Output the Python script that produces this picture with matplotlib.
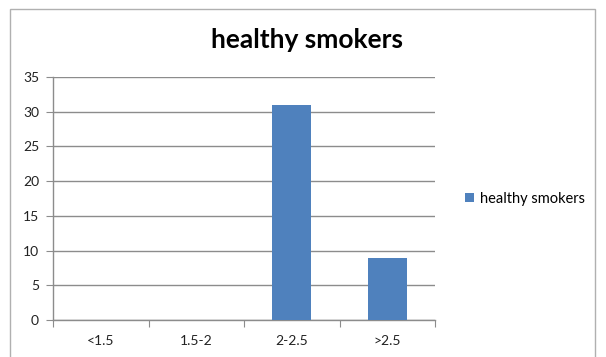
import matplotlib
matplotlib.use("Agg")
import matplotlib.pyplot as plt
from matplotlib.patches import Rectangle

plt.rcParams['font.family'] = ['Lato', 'DejaVu Sans']

categories = ['<1.5', '1.5-2', '2-2.5', '>2.5']
counts = [0, 0, 31, 9]
series_name = 'healthy smokers'
yticks = [0, 5, 10, 15, 20, 25, 30, 35]

bar_color = '#4F81BD'
grid_color = '#8C8C8C'

fig = plt.figure(figsize=(6.06, 3.57), dpi=100)
fig.patch.set_facecolor('white')

# chart area border
fig.patches.append(Rectangle((10 / 606, -0.05), 585 / 606, 1.05 - 9 / 357,
                             transform=fig.transFigure, fill=False,
                             edgecolor='#B0B0B0', linewidth=1.0))

ax = fig.add_axes([53 / 606, 1 - 320 / 357, 382 / 606, 243 / 357])
x = range(len(categories))
ax.bar(x, counts, width=0.41, color=bar_color, label=series_name, zorder=3)

ax.set_xlim(-0.5, len(categories) - 0.5)
ax.set_ylim(0, 35)
ax.set_yticks(yticks)
ax.yaxis.grid(True, color=grid_color, linewidth=1.0, zorder=0)
ax.set_axisbelow(True)

for s in ['top', 'right']:
    ax.spines[s].set_visible(False)
for s in ['left', 'bottom']:
    ax.spines[s].set_color(grid_color)
    ax.spines[s].set_linewidth(1.0)

# category labels centered, tick marks on the boundaries
ax.set_xticks([i - 0.5 for i in range(len(categories) + 1)])
ax.set_xticklabels([])
ax.set_xticks(list(x), minor=True)
ax.set_xticklabels(categories, minor=True)
ax.tick_params(axis='x', which='major', length=5, color=grid_color, direction='out')
ax.tick_params(axis='x', which='minor', length=0, pad=11, labelsize=10, labelcolor='#222222')
ax.tick_params(axis='y', length=5, color=grid_color, labelsize=10, labelcolor='#222222', pad=5)

fig.text(307 / 606, 1 - 40 / 357, 'healthy smokers', ha='center', va='center',
         fontsize=19, fontweight='bold', color='black')

ax.legend(loc='center left', bbox_to_anchor=(1.045, 0.5), frameon=False,
          fontsize=10.5, handlelength=0.6, handleheight=0.6, handletextpad=0.4)

fig.savefig('out.png', dpi=100)
